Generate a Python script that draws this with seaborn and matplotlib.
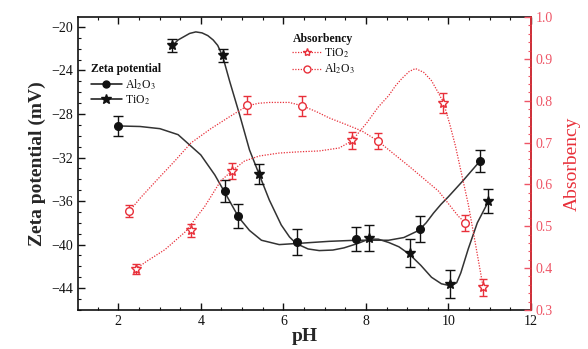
import matplotlib
matplotlib.use("Agg")
import matplotlib.pyplot as plt
from matplotlib.lines import Line2D
from matplotlib.ticker import MultipleLocator
import seaborn as sns

# -------------------------
# Measured points (read off the picture)
# -------------------------
ph_zeta_al = [2.0, 4.58, 4.9, 6.33, 7.76, 9.31, 10.77]
zeta_al = [-29.1, -35.1, -37.4, -39.8, -39.5, -38.6, -32.3]
zeta_al_err = [0.9, 1.0, 1.1, 1.2, 1.1, 1.2, 1.0]

ph_zeta_ti = [3.3, 4.53, 5.42, 8.07, 9.08, 10.05, 10.96]
zeta_ti = [-21.7, -22.6, -33.5, -39.4, -40.8, -43.6, -36.0]
zeta_ti_err = [0.6, 0.6, 0.9, 1.2, 1.3, 1.3, 1.1]

ph_abs_ti = [2.43, 3.76, 4.75, 7.66, 9.88, 10.84]
abs_ti = [0.398, 0.490, 0.632, 0.705, 0.795, 0.354]
abs_ti_err = [0.012, 0.015, 0.02, 0.02, 0.024, 0.02]

ph_abs_al = [2.27, 5.13, 6.46, 8.29, 10.41]
abs_al = [0.536, 0.790, 0.788, 0.704, 0.508]
abs_al_err = [0.015, 0.022, 0.024, 0.02, 0.02]

# -------------------------
# Fitted curves
# -------------------------
curve_ph_zeta_ti = [3.30, 3.45, 3.59, 3.73, 3.88, 4.03, 4.17, 4.30, 4.41, 4.53, 4.70, 4.94, 5.18,
                    5.42, 5.66, 5.95, 6.15, 6.31, 6.60, 6.87, 7.20, 7.47, 7.80, 8.07, 8.30, 8.55,
                    8.80, 9.06, 9.33, 9.59, 9.83, 10.07, 10.20, 10.30, 10.48, 10.70, 10.96]
curve_zeta_ti = [-21.76, -21.2, -20.9, -20.6, -20.46, -20.55, -20.8, -21.2, -21.7, -22.69, -25.0,
                 -28.06, -31.3, -33.6, -35.9, -38.2, -39.3, -39.9, -40.4, -40.55, -40.5, -40.3,
                 -39.9, -39.5, -39.5, -39.8, -40.2, -40.9, -41.9, -43.0, -43.6, -43.8, -43.5,
                 -42.6, -40.4, -38.0, -36.1]

curve_ph_zeta_al = [2.0, 2.53, 3.01, 3.45, 4.0, 4.34, 4.58, 4.92, 5.18, 5.47, 5.9, 6.31,
                    7.11, 7.76, 8.55, 8.92, 9.28, 9.46, 9.64, 9.82, 10.0, 10.36, 10.77]
curve_zeta_al = [-29.1, -29.15, -29.35, -29.9, -31.76, -33.6, -35.2, -37.5, -38.7, -39.6, -40.0, -39.9,
                 -39.7, -39.6, -39.6, -39.35, -38.7, -38.0, -37.1, -36.3, -35.6, -34.1, -32.3]

curve_ph_abs_ti = [2.43, 2.67, 3.13, 3.64, 4.10, 4.48, 4.75, 5.06, 5.42, 5.90, 6.39, 6.87,
                   7.35, 7.66, 8.02, 8.30, 8.55, 8.72, 8.87, 9.05, 9.20, 9.40, 9.59, 9.75,
                   9.88, 10.03, 10.17, 10.33, 10.48, 10.66, 10.84]
curve_abs_ti = [0.398, 0.415, 0.444, 0.488, 0.548, 0.608, 0.632, 0.656, 0.668, 0.675, 0.678, 0.680,
                0.687, 0.704, 0.747, 0.785, 0.812, 0.836, 0.853, 0.870, 0.877, 0.868, 0.848, 0.820,
                0.796, 0.745, 0.692, 0.620, 0.553, 0.455, 0.355]

curve_ph_abs_al = [2.27, 2.53, 2.96, 3.37, 3.76, 4.24, 4.70, 5.13, 5.40, 5.66, 6.14, 6.46,
                   6.80, 7.11, 7.50, 7.90, 8.29, 8.65, 9.04, 9.40, 9.76, 10.24, 10.41]
curve_abs_al = [0.536, 0.567, 0.613, 0.656, 0.699, 0.733, 0.762, 0.788, 0.794, 0.796, 0.796, 0.788,
                0.774, 0.759, 0.744, 0.728, 0.704, 0.675, 0.644, 0.614, 0.584, 0.524, 0.508]

RED = "#e8303a"
RED_TXT = "#ee5566"
BLACK = "#111111"

sns.set_theme(style="ticks")
plt.rcParams["font.family"] = ["Liberation Serif", "DejaVu Serif"]
plt.rcParams["mathtext.fontset"] = "stix"

fig = plt.figure(figsize=(5.88, 3.49), dpi=100)
ax = fig.add_axes([0.133, 0.112, 0.77, 0.839])
ax2 = ax.twinx()

# -------------------------
# Absorbency (right axis, red dotted)
# -------------------------
sns.lineplot(x=curve_ph_abs_ti, y=curve_abs_ti, ax=ax2, sort=False, estimator=None,
             color=RED, lw=0.9, linestyle=(0, (1, 1.2)))
sns.lineplot(x=curve_ph_abs_al, y=curve_abs_al, ax=ax2, sort=False, estimator=None,
             color=RED, lw=0.9, linestyle=(0, (1, 1.2)))
ax2.errorbar(ph_abs_ti, abs_ti, yerr=abs_ti_err, fmt="*", ms=7, mfc="white", mec=RED,
             mew=1.0, ecolor=RED, elinewidth=1.0, capsize=3, capthick=1.0)
ax2.errorbar(ph_abs_al, abs_al, yerr=abs_al_err, fmt="o", ms=5.5, mfc="white", mec=RED,
             mew=1.0, ecolor=RED, elinewidth=1.0, capsize=3, capthick=1.0)

# -------------------------
# Zeta potential (left axis, black solid)
# -------------------------
sns.lineplot(x=curve_ph_zeta_ti, y=curve_zeta_ti, ax=ax, sort=False, estimator=None,
             color="#333333", lw=1.1)
sns.lineplot(x=curve_ph_zeta_al, y=curve_zeta_al, ax=ax, sort=False, estimator=None,
             color="#333333", lw=1.1)
ax.errorbar(ph_zeta_al, zeta_al, yerr=zeta_al_err, fmt="o", ms=5.5, color=BLACK,
            elinewidth=1.0, capsize=3.5, capthick=1.0)
ax.errorbar(ph_zeta_ti, zeta_ti, yerr=zeta_ti_err, fmt="*", ms=7.5, color=BLACK,
            elinewidth=1.0, capsize=3.5, capthick=1.0)

# -------------------------
# Axes styling
# -------------------------
ax.set_xlim(1.03, 12)
ax.set_ylim(-46.0, -19.1)
ax2.set_ylim(0.3, 1.0)

ax.xaxis.set_major_locator(MultipleLocator(2))
ax.xaxis.set_minor_locator(MultipleLocator(0.5))
ax.yaxis.set_major_locator(MultipleLocator(4))
ax.yaxis.set_minor_locator(MultipleLocator(1))
ax2.yaxis.set_major_locator(MultipleLocator(0.1))
ax2.yaxis.set_minor_locator(MultipleLocator(0.02))

ax.tick_params(axis="x", which="both", direction="in", top=True, colors=BLACK, labelsize=10)
ax.tick_params(axis="y", which="both", direction="in", colors=BLACK, labelsize=10, right=False)
ax.tick_params(which="major", length=5, width=1.0)
ax.tick_params(which="minor", length=2.5, width=0.8)
ax2.tick_params(axis="y", which="both", direction="in", colors=RED_TXT, labelsize=10)
ax2.tick_params(which="major", length=5, width=1.0)
ax2.tick_params(which="minor", length=2.5, width=0.8)
ax2.set_yticks([0.3, 0.4, 0.5, 0.6, 0.7, 0.8, 0.9, 1.0])
ax2.set_yticklabels(["0.3", "0.4", "0.5", "0.6", "0.7", "0.8", "0.9", "1.0"])

for s in ["left", "bottom", "top"]:
    ax.spines[s].set_color(BLACK)
    ax.spines[s].set_linewidth(1.2)
ax2.spines["right"].set_color(RED)
ax2.spines["right"].set_linewidth(1.2)
ax2.spines["left"].set_visible(False)
ax2.spines["top"].set_visible(False)
ax2.spines["bottom"].set_visible(False)

ax.set_xlabel("pH", fontsize=14, fontweight="bold", labelpad=0)
ax.set_ylabel("Zeta potential (mV)", fontsize=14, fontweight="bold", labelpad=4)
ax2.set_ylabel("Absorbency", fontsize=14, color=RED, labelpad=8)

# -------------------------
# Legends
# -------------------------
zeta_handles = [
    Line2D([], [], color=BLACK, lw=1.1, marker="o", ms=5),
    Line2D([], [], color=BLACK, lw=1.1, marker="*", ms=7),
]
leg1 = ax.legend(zeta_handles, [r"Al$_2$O$_3$", r"TiO$_2$"], title="Zeta potential",
                 loc="upper left", bbox_to_anchor=(0.01, 0.87), frameon=False,
                 fontsize=8.5, title_fontsize=8.5, alignment="left", labelcolor=BLACK,
                 handlelength=2.6, handletextpad=0.3, labelspacing=0.15, borderpad=0.2)
leg1.get_title().set_fontweight("bold")
leg1.get_title().set_color(BLACK)

abs_handles = [
    Line2D([], [], color=RED, lw=0.9, ls=(0, (1, 1.2)), marker="*", ms=6, mfc="white", mec=RED),
    Line2D([], [], color=RED, lw=0.9, ls=(0, (1, 1.2)), marker="o", ms=5, mfc="white", mec=RED),
]
leg2 = ax2.legend(abs_handles, [r"TiO$_2$", r"Al$_2$O$_3$"], title="Absorbency",
                  loc="upper left", bbox_to_anchor=(0.455, 0.975), frameon=False,
                  fontsize=8.5, title_fontsize=8.5, alignment="left", labelcolor=BLACK,
                  handlelength=2.4, handletextpad=0.3, labelspacing=0.15, borderpad=0.2)
leg2.get_title().set_fontweight("bold")
leg2.get_title().set_color(BLACK)

fig.savefig("out.png", dpi=100)
